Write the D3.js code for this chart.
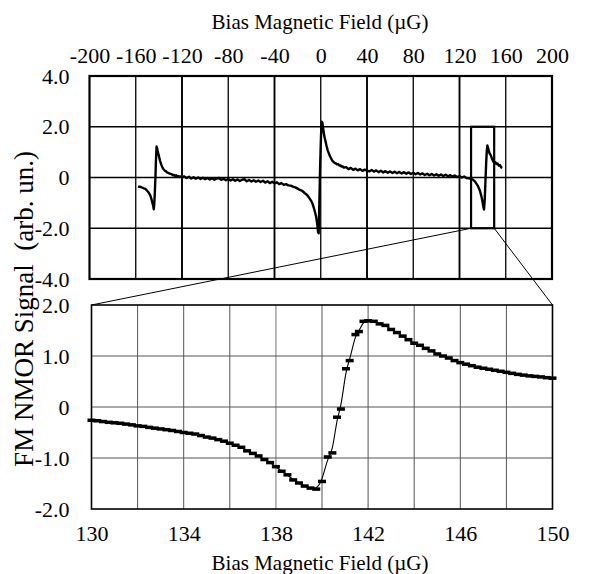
<!DOCTYPE html>
<html><head><meta charset="utf-8">
<script src="https://cdn.jsdelivr.net/npm/d3@7"></script>
<style>
body{margin:0;background:#fff}
</style>
</head><body><svg id="c" width="597" height="574"></svg>
<script>
// ---------- data ----------
const topTicksX = [-200,-160,-120,-80,-40,0,40,80,120,160,200];
const topTicksY = [4,2,0,-2,-4];
const topTickLabelsY = ["4.0","2.0","0","-2.0","-4.0"];
const botTicksX = [130,134,138,142,146,150];
const botGridX = [130,132,134,136,138,140,142,144,146,148,150];
const botTicksY = [2,1,0,-1,-2];
const botTickLabelsY = ["2.0","1.0","0","-1.0","-2.0"];
const zoomRangeX = [130,150];
const zoomRangeY = [-2,2];
const axisTitleX = "Bias Magnetic Field (\u00B5G)";
const axisTitleY = "FM NMOR Signal\u00A0 (arb. un.)";

const topField = [-158,-157,-156,-155,-154,-153,-152,-151,-150,-149,-148,-147,-146,-145,-144.4,-144,-143.5,-143,-142.5,-142,-141.5,-141,-140,-139,-138,-137,-136,-135,-134,-133,-132,-131,-130,-129,-128,-127,-126,-125,-124,-123,-122,-121,-120,
-118,-116,-114,-112,-110,-108,-106,-104,-102,-100,-98,-96,-94,-92,-90,-88,-86,-84,-82,-80,-78,-76,-74,-72,-70,-68,-66,-64,-62,-60,-58,-56,-54,-52,-50,-48,-46,-44,-42,-40,-38,-36,-34,-32,-30,-28,-26,-24,-22,-20,-18,-16,-14,-12,-10,-8,-7,-6,-5,-4,-3,-2.3,-1.8,-1.2,-0.5,0.2,0.8,1.4,2,3,4,5,6,7,8,9,10,11,12,13,14,15,16,17,18,19,20,22,24,26,28,30,32,34,36,38,40,42,44,46,48,50,52,54,56,58,60,62,64,66,68,70,72,74,76,78,80,82,84,86,88,90,92,94,96,98,100,102,104,106,108,110,112,114,116,118,120,122,124,126,128,130,131,132,133,134,135,136,137,138,139,140,140.6,141.2,141.8,142.4,143,143.6,144.1,144.6,145.2,146,147,148,149,150,151,152,153,154,155,156,157];
const topSignal = [-0.35,-0.37,-0.36,-0.39,-0.40,-0.43,-0.44,-0.48,-0.53,-0.58,-0.66,-0.76,-0.92,-1.10,-1.25,-1.05,-0.6,0.0,0.7,1.22,1.15,1.02,0.85,0.66,0.52,0.40,0.33,0.27,0.25,0.20,0.18,0.16,0.14,0.13,0.09,0.10,0.06,0.09,0.04,0.06,0.02,0.04,0.01,
0.04,-0.02,0.03,-0.04,0.01,-0.05,0.00,-0.06,-0.01,-0.07,-0.02,-0.08,-0.03,-0.09,-0.04,-0.02,-0.09,-0.05,-0.11,-0.06,-0.12,-0.07,-0.13,-0.08,-0.14,-0.09,-0.07,-0.15,-0.10,-0.16,-0.11,-0.17,-0.12,-0.18,-0.13,-0.20,-0.15,-0.22,-0.17,-0.23,-0.19,-0.26,-0.22,-0.29,-0.26,-0.31,-0.32,-0.36,-0.39,-0.44,-0.49,-0.53,-0.61,-0.68,-0.80,-0.94,-1.05,-1.20,-1.36,-1.55,-1.85,-2.15,-2.2,-1.0,0.5,1.6,2.2,2.15,1.95,1.65,1.45,1.25,1.07,0.95,0.84,0.75,0.66,0.62,0.57,0.56,0.52,0.53,0.47,0.48,0.43,0.44,0.39,0.41,0.33,0.38,0.30,0.35,0.28,0.33,0.26,0.31,0.27,0.24,0.30,0.23,0.28,0.21,0.27,0.20,0.25,0.19,0.24,0.18,0.23,0.17,0.22,0.16,0.21,0.15,0.20,0.14,0.19,0.13,0.18,0.12,0.16,0.10,0.15,0.09,0.14,0.08,0.13,0.07,0.12,0.06,0.11,0.05,0.09,0.04,0.08,0.02,0.06,0.00,0.04,-0.02,-0.03,-0.05,-0.07,-0.10,-0.14,-0.20,-0.27,-0.34,-0.45,-0.58,-0.75,-0.98,-1.15,-1.26,-0.9,-0.2,0.5,1.05,1.26,1.18,1.08,0.95,0.88,0.75,0.65,0.58,0.60,0.53,0.55,0.47,0.49,0.40,0.38];

const zoomField = [130,130.25,130.5,130.75,131,131.25,131.5,131.75,132,132.25,132.5,132.75,133,133.25,133.5,133.75,134,134.25,134.5,134.75,135,135.25,135.5,135.75,136,136.25,136.5,136.75,137,137.25,137.5,137.75,138,138.25,138.5,138.75,139,139.25,139.5,139.75,140,140.25,140.45,140.65,140.82,141.04,141.2,141.45,141.6,141.8,142,142.25,142.5,142.75,143,143.25,143.5,143.75,144,144.25,144.5,144.75,145,145.25,145.5,145.75,146,146.25,146.5,146.75,147,147.25,147.5,147.75,148,148.25,148.5,148.75,149,149.25,149.5,149.75,150];
const zoomSignal = [-0.26,-0.27,-0.285,-0.30,-0.31,-0.32,-0.335,-0.35,-0.37,-0.38,-0.40,-0.415,-0.43,-0.445,-0.46,-0.48,-0.50,-0.515,-0.53,-0.56,-0.59,-0.61,-0.64,-0.67,-0.71,-0.75,-0.79,-0.86,-0.91,-0.96,-1.03,-1.09,-1.17,-1.26,-1.33,-1.43,-1.49,-1.55,-1.59,-1.61,-1.46,-0.98,-0.90,-0.20,-0.04,0.75,0.91,1.42,1.48,1.68,1.69,1.68,1.63,1.60,1.52,1.46,1.39,1.32,1.25,1.21,1.15,1.10,1.04,1.00,0.96,0.91,0.87,0.84,0.81,0.78,0.76,0.74,0.72,0.70,0.68,0.66,0.64,0.625,0.61,0.60,0.59,0.575,0.565];

// ---------- layout ----------
const FONT = '"Liberation Serif"';
const svg = d3.select("#c");
const TICK_FS = 22, TITLE_FS = 21, YTITLE_FS = 27;
const xTop = d3.scaleLinear([-200,200],[89.5,552]);
const yTop = d3.scaleLinear([-4,4],[279,76]);
const xBot = d3.scaleLinear([130,150],[91.5,552.5]);
const yBot = d3.scaleLinear([-2,2],[509,305]);

// top grid
const gTop = svg.append("g");
gTop.selectAll("line.v").data(topTicksX.slice(1,-1)).join("line")
  .attr("x1",d=>xTop(d)).attr("x2",d=>xTop(d)).attr("y1",yTop(4)).attr("y2",yTop(-4))
  .attr("stroke","#000").attr("stroke-width",(d,i)=> i%2===1?1.9:1.3);
gTop.selectAll("line.h").data(topTicksY.slice(1,-1)).join("line")
  .attr("x1",xTop(-200)).attr("x2",xTop(200)).attr("y1",d=>yTop(d)).attr("y2",d=>yTop(d))
  .attr("stroke","#000").attr("stroke-width",1.5);
gTop.append("rect").attr("x",xTop(-200)).attr("y",yTop(4))
  .attr("width",xTop(200)-xTop(-200)).attr("height",yTop(-4)-yTop(4))
  .attr("fill","none").attr("stroke","#000").attr("stroke-width",2.2);

// top trace
const topData = topField.map((f,i)=>[f,topSignal[i]]);
gTop.append("path").datum(topData)
  .attr("d", d3.line().x(d=>xTop(d[0])).y(d=>yTop(d[1])))
  .attr("fill","none").attr("stroke","#000").attr("stroke-width",2.4).attr("stroke-linejoin","round");

// zoom box
gTop.append("rect").attr("x",xTop(zoomRangeX[0])).attr("y",yTop(zoomRangeY[1]))
  .attr("width",xTop(zoomRangeX[1])-xTop(zoomRangeX[0])).attr("height",yTop(zoomRangeY[0])-yTop(zoomRangeY[1]))
  .attr("fill","none").attr("stroke","#000").attr("stroke-width",2.2);

// connectors
svg.append("line").attr("x1",xTop(zoomRangeX[0])).attr("y1",yTop(zoomRangeY[0]))
  .attr("x2",xBot(zoomRangeX[0])).attr("y2",yBot(zoomRangeY[1])).attr("stroke","#000").attr("stroke-width",1);
svg.append("line").attr("x1",xTop(zoomRangeX[1])).attr("y1",yTop(zoomRangeY[0]))
  .attr("x2",xBot(zoomRangeX[1])).attr("y2",yBot(zoomRangeY[1])).attr("stroke","#000").attr("stroke-width",1);

// top axes labels
const a1 = svg.append("g").attr("transform",`translate(0,${yTop(4)})`)
  .call(d3.axisTop(xTop).tickValues(topTicksX).tickSize(0).tickPadding(13).tickFormat(d=>String(d)));
const a2 = svg.append("g").attr("transform",`translate(${xTop(-200)},0)`)
  .call(d3.axisLeft(yTop).tickValues(topTicksY).tickSize(0).tickPadding(20).tickFormat((d,i)=>topTickLabelsY[i]));

// bottom grid
const gBot = svg.append("g");
gBot.selectAll("line.v").data(botGridX.slice(1,-1)).join("line")
  .attr("x1",d=>xBot(d)).attr("x2",d=>xBot(d)).attr("y1",yBot(2)).attr("y2",yBot(-2))
  .attr("stroke",d=>d===138?"#aaa":"#555").attr("stroke-width",d=>d===138?1.6:1);
gBot.selectAll("line.h").data(botTicksY.slice(1,-1)).join("line")
  .attr("x1",xBot(130)).attr("x2",xBot(150)).attr("y1",d=>yBot(d)).attr("y2",d=>yBot(d))
  .attr("stroke","#555").attr("stroke-width",1);
gBot.append("rect").attr("x",xBot(130)).attr("y",yBot(2))
  .attr("width",xBot(150)-xBot(130)).attr("height",yBot(-2)-yBot(2))
  .attr("fill","none").attr("stroke","#000").attr("stroke-width",1.6);

// bottom fit line & markers
const zoomData = zoomField.map((f,i)=>[f,zoomSignal[i]]);
gBot.append("path").datum(zoomData)
  .attr("d", d3.line().curve(d3.curveBasis).x(d=>xBot(d[0])).y(d=>yBot(d[1])))
  .attr("fill","none").attr("stroke","#000").attr("stroke-width",1.1);
gBot.selectAll("rect.m").data(zoomData).join("rect").attr("class","m")
  .attr("x",d=>xBot(d[0])-4).attr("y",d=>yBot(d[1])-1.75)
  .attr("width",8).attr("height",3.5).attr("fill","#000");

// bottom axes labels
const a3 = svg.append("g").attr("transform",`translate(0,${yBot(-2)})`)
  .call(d3.axisBottom(xBot).tickValues(botTicksX).tickSize(0).tickPadding(16).tickFormat(d=>String(d)));
const a4 = svg.append("g").attr("transform",`translate(${xBot(130)},0)`)
  .call(d3.axisLeft(yBot).tickValues(botTicksY).tickSize(0).tickPadding(22).tickFormat((d,i)=>botTickLabelsY[i]));

[a1,a2,a3,a4].forEach(a=>{
  a.attr("font-family","Liberation Serif").attr("font-size",TICK_FS);
  a.select(".domain").remove();
});
svg.selectAll(".tick text").style("font-size",TICK_FS+"px").style("font-family",FONT).style("fill","#000");

// titles
svg.append("text").attr("x",320).attr("y",29).attr("text-anchor","middle")
  .style("font-size",TITLE_FS+"px").style("font-family",FONT).text(axisTitleX);
svg.append("text").attr("x",320).attr("y",570).attr("text-anchor","middle")
  .style("font-size",TITLE_FS+"px").style("font-family",FONT).text(axisTitleX);
svg.append("text").attr("transform","translate(33,309) rotate(-90)").attr("text-anchor","middle")
  .style("font-size",YTITLE_FS+"px").style("font-family",FONT).text(axisTitleY);
</script>
</body></html>
